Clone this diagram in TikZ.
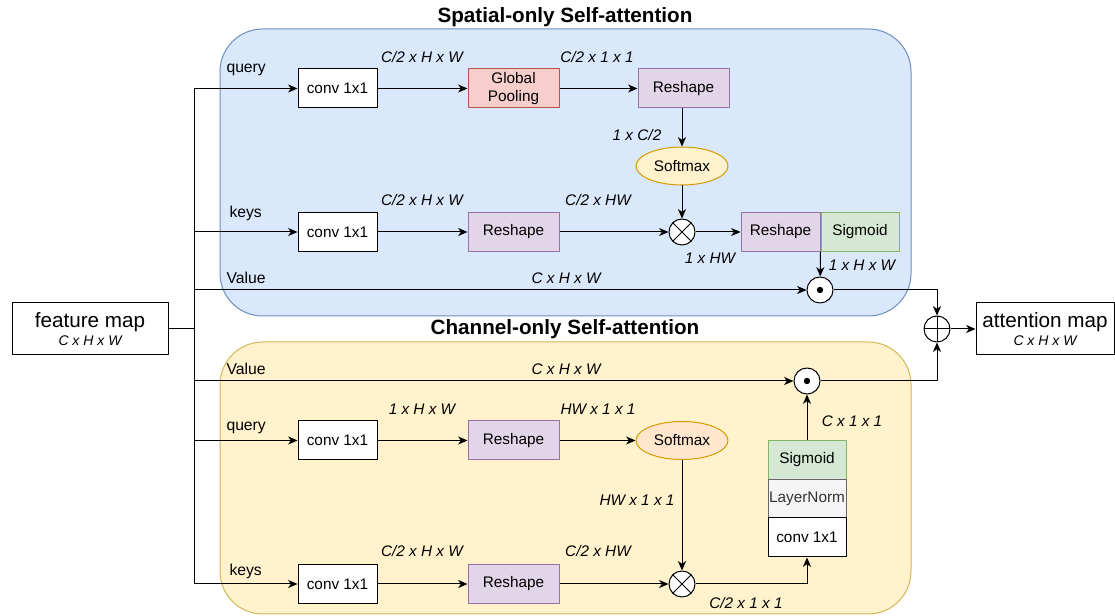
\documentclass[tikz,border=0pt]{standalone}
\usepackage{fontspec}
\setmainfont{Liberation Sans}
\usetikzlibrary{arrows.meta,shapes.geometric}
\definecolor{blueF}{HTML}{DAE8FC}\definecolor{blueD}{HTML}{6C8EBF}
\definecolor{yellF}{HTML}{FFF2CC}\definecolor{yellD}{HTML}{D6B656}
\definecolor{redF}{HTML}{F8CECC}\definecolor{redD}{HTML}{B85450}
\definecolor{purF}{HTML}{E1D5E7}\definecolor{purD}{HTML}{9673A6}
\definecolor{grnF}{HTML}{D5E8D4}\definecolor{grnD}{HTML}{82B366}
\definecolor{orgF}{HTML}{FFE6CC}\definecolor{orgD}{HTML}{D79B00}
\definecolor{gryF}{HTML}{F5F5F5}\definecolor{gryD}{HTML}{666666}
\begin{document}
\begin{tikzpicture}[x=0.75pt,y=-0.75pt,line join=round,>={Stealth[length=7pt,width=6pt,inset=2pt]},line width=0.75pt]
				\tikzset{every node/.style={font=\fontsize{11.5}{13}\selectfont,inner sep=0pt},
					blk/.style={draw,fill=white,minimum width=59.25pt,minimum height=29.25pt},
					wblk/.style={blk,minimum width=68.25pt},
					pool/.style={wblk,fill=redF,draw=redD},
					resh/.style={wblk,fill=purF,draw=purD},
					sigm/.style={blk,minimum width=58.5pt,fill=grnF,draw=grnD},
					smax/.style={ellipse,draw=orgD,fill=orgF,minimum width=69pt,minimum height=28.5pt},
					opr/.style={circle,draw,fill=white,minimum size=19.5pt},
					otimes/.style={opr,path picture={\draw (path picture bounding box.north west)--(path picture bounding box.south east) (path picture bounding box.north east)--(path picture bounding box.south west);}},
					oplus/.style={opr,path picture={\draw (path picture bounding box.north)--(path picture bounding box.south) (path picture bounding box.east)--(path picture bounding box.west);}},
					odot/.style={opr,path picture={\fill[black] (path picture bounding box.center) circle (2.4pt);}},
					dim/.style={font=\fontsize{11.5}{13}\selectfont\itshape},
					tag/.style={anchor=west,font=\fontsize{11.8}{13}\selectfont},
					ttl/.style={font=\fontsize{15.5}{17}\selectfont\bfseries},
					io/.style={draw,fill=white,align=center,minimum height=39pt}}
				\useasboundingbox (0,0) rectangle (1115,616);
				% the two attention blocks
				\draw[rounded corners=32pt,fill=blueF,draw=blueD] (220,29) rectangle (911,316);
				\draw[rounded corners=32pt,fill=yellF,draw=yellD] (220,342) rectangle (911,614);
				\node[ttl] (spttl) at (565,17) {Spatial-only Self-attention};
				\node[ttl] (chttl) at (565,329) {Channel-only Self-attention};
				% input / output
				\node[io,minimum width=117pt] (fmap) at (90,329) {{\fontsize{15.5}{16}\selectfont feature map}\\[1pt]{\fontsize{10.5}{11}\selectfont\itshape C x H x W}};
				\node[io,minimum width=103.5pt] (amap) at (1045,329) {{\fontsize{15.5}{16}\selectfont attention map}\\[1pt]{\fontsize{10.5}{11}\selectfont\itshape C x H x W}};
				\coordinate (trunk) at (194,329);
				% spatial branch
				\node[blk] (qconvA) at (337.5,88.5) {conv 1x1};
				\node[pool,align=center] (gpool) at (513.5,88.5) {Global\\Pooling};
				\node[resh] (rshA) at (683.5,88.5) {Reshape};
				\node[smax,fill=yellF] (smaxA) at (682,166) {Softmax};
				\node[blk] (kconvA) at (337.5,232) {conv 1x1};
				\node[resh] (rshB) at (513.5,232) {Reshape};
				\node[otimes] (mulA) at (682,232) {};
				\node[resh,minimum width=59.25pt] (rshC) at (780.5,232) {Reshape};
				\node[sigm,anchor=west] (sigA) at (rshC.east) {Sigmoid};
				\node[odot] (dotA) at (820,290) {};
				\node[oplus] (sum) at (937,329) {};
				% channel branch
				\node[odot] (dotB) at (807,381) {};
				\node[blk] (qconvB) at (337.5,440.5) {conv 1x1};
				\node[resh] (rshD) at (513.5,440.5) {Reshape};
				\node[smax] (smaxB) at (682,440.5) {Softmax};
				\node[blk] (kconvB) at (337.5,584) {conv 1x1};
				\node[resh] (rshE) at (513.5,584) {Reshape};
				\node[otimes] (mulB) at (682,584) {};
				\node[sigm] (sigB) at (807,460) {Sigmoid};
				\node[blk,minimum width=58.5pt,fill=gryF,draw=gryD,text=black!80] (lnorm) at (807,499) {LayerNorm};
				\node[blk,minimum width=58.5pt] (convC) at (807,537.5) {conv 1x1};
				% connectors
				\draw (fmap.east)--(trunk);
				\draw (trunk |- qconvA)--(trunk |- kconvB);
				\draw[->] (trunk |- qconvA)--(qconvA);
				\draw[->] (trunk |- kconvA)--(kconvA);
				\draw[->] (trunk |- dotA)--(dotA);
				\draw[->] (trunk |- dotB)--(dotB);
				\draw[->] (trunk |- qconvB)--(qconvB);
				\draw[->] (trunk |- kconvB)--(kconvB);
				\draw[->] (qconvA)--(gpool);
				\draw[->] (gpool)--(rshA);
				\draw[->] (rshA.south -| smaxA)--(smaxA);
				\draw[->] (smaxA)--(mulA);
				\draw[->] (kconvA)--(rshB);
				\draw[->] (rshB)--(mulA);
				\draw[->] (mulA)--(rshC);
				\draw[->] (rshC.south east)--(dotA);
				\draw[->] (dotA)-|(sum);
				\draw[->] (dotB)-|(sum);
				\draw[->] (sum)--(amap);
				\draw[->] (qconvB)--(rshD);
				\draw[->] (rshD)--(smaxB);
				\draw[->] (smaxB)--(mulB);
				\draw[->] (kconvB)--(rshE);
				\draw[->] (rshE)--(mulB);
				\draw[->] (mulB)-|(convC);
				\draw[->] (sigB)--(dotB);
				% branch names and sizes
				\node[tag] (tqA) at (226,70) {query};
				\node[tag] (tkA) at (229,213) {keys};
				\node[tag] (tvA) at (226,278) {Value};
				\node[tag] (tvB) at (226,369) {Value};
				\node[tag] (tqB) at (226,428) {query};
				\node[tag] (tkB) at (229,571) {keys};
				\node[dim] (dA) at (422,57) {C/2 x H x W};
				\node[dim] (dB) at (597,57) {C/2 x 1 x 1};
				\node[dim] (dC) at (637,135) {1 x C/2};
				\node[dim] (dD) at (422,200) {C/2 x H x W};
				\node[dim] (dE) at (598,200) {C/2 x HW};
				\node[dim] (dF) at (710,258) {1 x HW};
				\node[dim] (dG) at (566,278) {C x H x W};
				\node[dim] (dH) at (862,265) {1 x H x W};
				\node[dim] (dI) at (566,369) {C x H x W};
				\node[dim] (dJ) at (422,409) {1 x H x W};
				\node[dim] (dK) at (598,409) {HW x 1 x 1};
				\node[dim] (dL) at (637,500) {HW x 1 x 1};
				\node[dim] (dM) at (422,551) {C/2 x H x W};
				\node[dim] (dN) at (598,551) {C/2 x HW};
				\node[dim] (dO) at (746,603) {C/2 x 1 x 1};
				\node[dim] (dP) at (852,421) {C x 1 x 1};
			\end{tikzpicture}
\end{document}
